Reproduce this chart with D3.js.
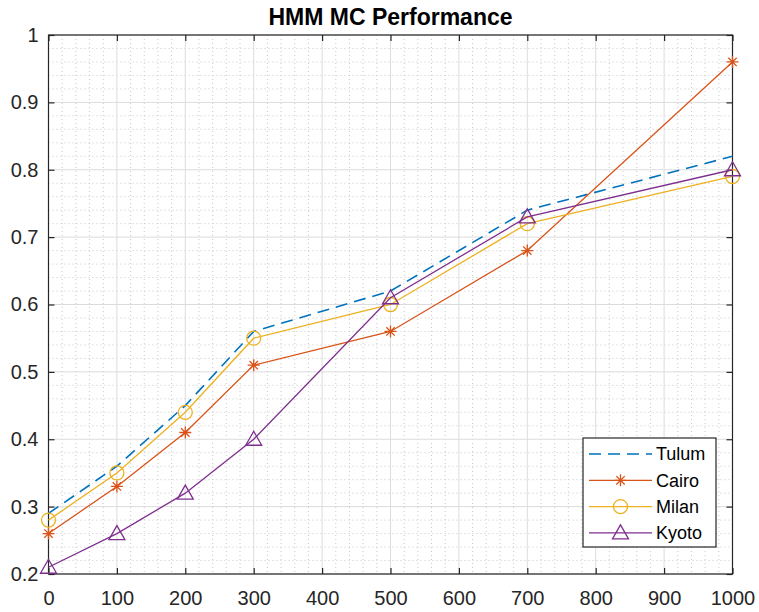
<!DOCTYPE html>
<html>
<head>
<meta charset="utf-8">
<script src="https://cdn.jsdelivr.net/npm/d3@7"></script>
<style>
  html, body { margin: 0; padding: 0; background: #fff; }
  svg { display: block; font-family: Arial, "Liberation Sans", sans-serif; }
</style>
</head>
<body>
<svg id="chart" width="759" height="612"></svg>
<script>
// Sample sizes on the x axis
const xValues = [0, 100, 200, 300, 500, 700, 1000];

// Performance per city
const tulum = [0.29, 0.36, 0.45, 0.56, 0.62, 0.74, 0.82];
const cairo = [0.26, 0.33, 0.41, 0.51, 0.56, 0.68, 0.96];
const milan = [0.28, 0.35, 0.44, 0.55, 0.60, 0.72, 0.79];
const kyoto = [0.21, 0.26, 0.32, 0.40, 0.61, 0.73, 0.80];

const xTicks = [0, 100, 200, 300, 400, 500, 600, 700, 800, 900, 1000];
const yTicks = [0.2, 0.3, 0.4, 0.5, 0.6, 0.7, 0.8, 0.9, 1];

const series = [
  { name: "Tulum", values: tulum, color: "#0072BD", dash: "12,7", marker: "none" },
  { name: "Cairo", values: cairo, color: "#D95319", dash: null, marker: "asterisk" },
  { name: "Milan", values: milan, color: "#EDB120", dash: null, marker: "circle" },
  { name: "Kyoto", values: kyoto, color: "#7E2F8E", dash: null, marker: "triangle" }
];

const svg = d3.select("#chart");
const L = 48.5, R = 732.5, T = 35, B = 574;

const x = d3.scaleLinear().domain([0, 1000]).range([L, R]);
const y = d3.scaleLinear().domain([0.2, 1]).range([B, T]);

const g = svg.append("g");

// minor grid (dotted)
const xMinor = d3.range(0, 1000.001, 20).filter(v => v % 100 !== 0);
const yMinor = d3.range(0.2, 1.0001, 0.02).filter(v => Math.abs(Math.round(v * 10) - v * 10) > 1e-6);
g.selectAll(".xminor").data(xMinor).enter().append("line")
  .attr("x1", d => x(d)).attr("x2", d => x(d)).attr("y1", T).attr("y2", B)
  .attr("stroke", "#c8c8c8").attr("stroke-width", 1).attr("stroke-dasharray", "1,3");
g.selectAll(".yminor").data(yMinor).enter().append("line")
  .attr("y1", d => y(d)).attr("y2", d => y(d)).attr("x1", L).attr("x2", R)
  .attr("stroke", "#c8c8c8").attr("stroke-width", 1).attr("stroke-dasharray", "1,3");

// major grid
g.selectAll(".xmajor").data(xTicks).enter().append("line")
  .attr("x1", d => x(d)).attr("x2", d => x(d)).attr("y1", T).attr("y2", B)
  .attr("stroke", "#dcdcdc").attr("stroke-width", 1);
g.selectAll(".ymajor").data(yTicks).enter().append("line")
  .attr("y1", d => y(d)).attr("y2", d => y(d)).attr("x1", L).attr("x2", R)
  .attr("stroke", "#dcdcdc").attr("stroke-width", 1);

// axes with inward ticks
const axisColor = "#262626";
const xAxis = d3.axisBottom(x).tickValues(xTicks).tickSizeInner(-6).tickSizeOuter(0).tickPadding(17).tickFormat(d3.format("d"));
const yAxis = d3.axisLeft(y).tickValues(yTicks).tickSizeInner(-6).tickSizeOuter(0).tickPadding(10).tickFormat(d => d === 1 ? "1" : d3.format(".1f")(d));
const xAxisTop = d3.axisTop(x).tickValues(xTicks).tickSizeInner(-6).tickSizeOuter(0).tickFormat("");
const yAxisRight = d3.axisRight(y).tickValues(yTicks).tickSizeInner(-6).tickSizeOuter(0).tickFormat("");

function styleAxis(sel) {
  sel.select(".domain").remove();
  sel.selectAll("line").attr("stroke", axisColor).attr("stroke-width", 1.2);
  sel.selectAll("text").attr("fill", axisColor).style("font-size", "20px").style("font-family", "Arial, 'Liberation Sans', sans-serif");
}
svg.append("g").attr("transform", `translate(0,${B})`).call(xAxis).call(styleAxis);
svg.append("g").attr("transform", `translate(${L},0)`).call(yAxis).call(styleAxis);
svg.append("g").attr("transform", `translate(0,${T})`).call(xAxisTop).call(styleAxis);
svg.append("g").attr("transform", `translate(${R},0)`).call(yAxisRight).call(styleAxis);

// box
svg.append("rect").attr("x", L).attr("y", T).attr("width", R - L).attr("height", B - T)
  .attr("fill", "none").attr("stroke", axisColor).attr("stroke-width", 1.2);

// title
svg.append("text").attr("x", (L + R) / 2).attr("y", 25).attr("text-anchor", "middle")
  .style("font-size", "23px").style("font-weight", "bold").attr("fill", "#000")
  .text("HMM MC Performance");

// marker drawing
function drawMarker(sel, type, color) {
  if (type === "asterisk") {
    const s = 6;
    const p = `M${-s},0L${s},0M0,${-s}L0,${s}M${-s*0.7},${-s*0.7}L${s*0.7},${s*0.7}M${-s*0.7},${s*0.7}L${s*0.7},${-s*0.7}`;
    sel.append("path").attr("d", p).attr("stroke", color).attr("stroke-width", 1.3).attr("fill", "none");
  } else if (type === "circle") {
    sel.append("circle").attr("r", 7).attr("fill", "none").attr("stroke", color).attr("stroke-width", 1.3);
  } else if (type === "triangle") {
    const s = 8;
    sel.append("path").attr("d", `M0,${-s}L${s},${s*0.75}L${-s},${s*0.75}Z`)
      .attr("fill", "none").attr("stroke", color).attr("stroke-width", 1.3);
  }
}

const line = d3.line().x(d => x(d[0])).y(d => y(d[1]));
const plot = svg.append("g");
series.forEach(s => {
  const pts = xValues.map((xv, i) => [xv, s.values[i]]);
  plot.append("path").datum(pts).attr("d", line)
    .attr("fill", "none").attr("stroke", s.color)
    .attr("stroke-width", s.dash ? 1.6 : 1.3)
    .attr("stroke-dasharray", s.dash);
  if (s.marker !== "none") {
    pts.forEach(p => {
      const m = plot.append("g").attr("transform", `translate(${x(p[0])},${y(p[1])})`);
      drawMarker(m, s.marker, s.color);
    });
  }
});

// legend
const lg = svg.append("g");
const lx = 583, ly = 438, lw = 133, lh = 109;
lg.append("rect").attr("x", lx).attr("y", ly).attr("width", lw).attr("height", lh)
  .attr("fill", "#fff").attr("stroke", axisColor).attr("stroke-width", 1.2);
series.forEach((s, i) => {
  const cy = ly + 16 + i * 26.3;
  lg.append("line").attr("x1", lx + 6).attr("x2", lx + 69).attr("y1", cy).attr("y2", cy)
    .attr("stroke", s.color).attr("stroke-width", s.dash ? 1.6 : 1.3).attr("stroke-dasharray", s.dash);
  if (s.marker !== "none") {
    const m = lg.append("g").attr("transform", `translate(${lx + 37.5},${cy})`);
    drawMarker(m, s.marker, s.color);
  }
  lg.append("text").attr("x", lx + 73).attr("y", cy).attr("dy", "0.35em")
    .style("font-size", "18px").attr("fill", "#000").text(s.name);
});
</script>
</body>
</html>
